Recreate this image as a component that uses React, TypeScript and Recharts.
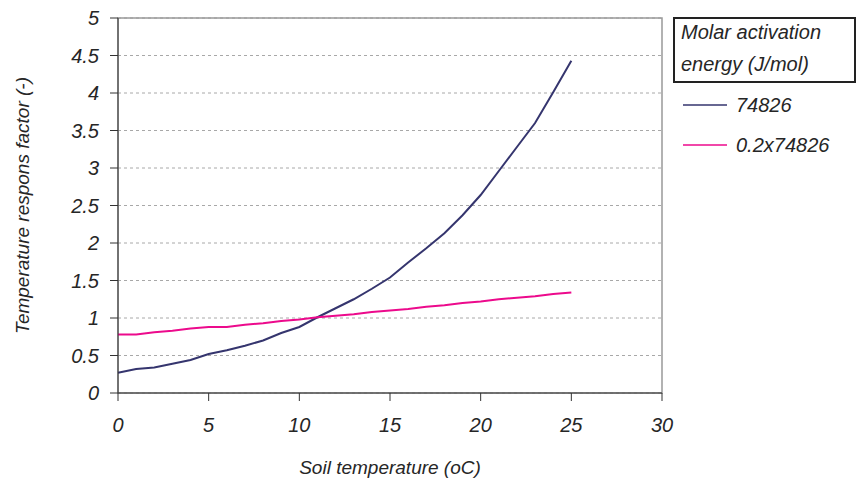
import {
  LineChart,
  Line,
  XAxis,
  YAxis,
  CartesianGrid,
  Legend,
  ReferenceArea,
} from 'recharts'

const temperatures = [
  0, 1, 2, 3, 4, 5, 6, 7, 8, 9, 10, 11, 12, 13, 14, 15, 16, 17, 18, 19, 20, 21, 22, 23, 24, 25,
]

// Ea = 74826 J/mol
const factorFull = [
  0.27, 0.32, 0.34, 0.39, 0.44, 0.52, 0.57, 0.63, 0.7, 0.8, 0.88, 1.01, 1.13, 1.25, 1.39, 1.54,
  1.74, 1.93, 2.13, 2.37, 2.64, 2.96, 3.28, 3.6, 4.01, 4.43,
]

// Ea = 0.2 x 74826 J/mol
const factorScaled = [
  0.78, 0.78, 0.81, 0.83, 0.86, 0.88, 0.88, 0.91, 0.93, 0.96, 0.98, 1.01, 1.03, 1.05, 1.08, 1.1,
  1.12, 1.15, 1.17, 1.2, 1.22, 1.25, 1.27, 1.29, 1.32, 1.34,
]

const seriesNames = ['74826', '0.2x74826']
const seriesColors = ['#35356e', '#ec0a8c']

const xTicks = [0, 5, 10, 15, 20, 25, 30]
const yTicks = [0, 0.5, 1, 1.5, 2, 2.5, 3, 3.5, 4, 4.5, 5]

const FONT = '"Liberation Sans", Arial, sans-serif'
const AXIS_COLOR = '#333'
const TEXT_COLOR = '#262626'

const data = temperatures.map((t, i) => ({
  t,
  full: factorFull[i],
  scaled: factorScaled[i],
}))

function LegendBox({ payload }: any) {
  const items = [...(payload || [])].sort(
    (a: any, b: any) => seriesNames.indexOf(a.value) - seriesNames.indexOf(b.value)
  )
  return (
    <div style={{ fontFamily: FONT, fontStyle: 'italic', fontSize: 20, color: TEXT_COLOR }}>
      <div
        style={{
          border: '2px solid #222',
          padding: '0 0 0 6px',
          lineHeight: '32px',
          height: 66,
          boxSizing: 'border-box',
          width: 183,
          whiteSpace: 'nowrap',
          overflow: 'hidden',
        }}
      >
        <div style={{ marginTop: -3 }}>
          Molar activation
          <br />
          energy (J/mol)
        </div>
      </div>
      <div style={{ height: 2 }} />
      {items.map((entry: any) => (
        <div
          key={entry.value}
          style={{ display: 'flex', alignItems: 'center', height: 40, paddingLeft: 10 }}
        >
          <svg width={44} height={4} style={{ marginRight: 9 }}>
            <line
              x1={0}
              x2={44}
              y1={2}
              y2={2}
              stroke={seriesColors[seriesNames.indexOf(entry.value)]}
              strokeWidth={1.5}
            />
          </svg>
          <span>{entry.value}</span>
        </div>
      ))}
    </div>
  )
}

export default function App() {
  const tickStyle = { fontFamily: FONT, fontStyle: 'italic', fontSize: 20, fill: TEXT_COLOR }
  return (
    <div style={{ position: 'absolute', left: 0, top: 0, background: '#fff' }}>
      <LineChart
        width={856}
        height={482}
        data={data}
        margin={{ top: 18, right: 194, left: 0, bottom: 0 }}
      >
        <CartesianGrid horizontal vertical={false} stroke="#a8a8a8" strokeDasharray="3 3" />
        <ReferenceArea
          x1={0}
          x2={30}
          y1={0}
          y2={5}
          fill="none"
          stroke="#999"
          strokeWidth={1.5}
          ifOverflow="visible"
        />
        <XAxis
          dataKey="t"
          type="number"
          domain={[0, 30]}
          ticks={xTicks}
          height={89}
          tickSize={8}
          tickMargin={17}
          stroke={AXIS_COLOR}
          tick={tickStyle}
          label={{
            value: 'Soil temperature (oC)',
            position: 'insideBottom',
            offset: 8,
            style: { fontFamily: FONT, fontStyle: 'italic', fontSize: 19, fill: TEXT_COLOR },
          }}
        />
        <YAxis
          type="number"
          domain={[0, 5]}
          ticks={yTicks}
          width={118}
          tickSize={8}
          tickMargin={11}
          stroke={AXIS_COLOR}
          tick={tickStyle}
          interval={0}
          label={{
            value: 'Temperature respons factor (-)',
            angle: -90,
            position: 'insideLeft',
            offset: 22,
            style: {
              textAnchor: 'middle',
              fontFamily: FONT,
              fontStyle: 'italic',
              fontSize: 19,
              fill: TEXT_COLOR,
            },
          }}
        />
        <Legend
          layout="horizontal"
          verticalAlign="middle"
          align="center"
          wrapperStyle={{ top: 17, left: 673, width: 183 }}
          content={<LegendBox />}
        />
        <Line
          type="linear"
          dataKey="full"
          name={seriesNames[0]}
          stroke={seriesColors[0]}
          strokeWidth={2}
          dot={false}
          isAnimationActive={false}
        />
        <Line
          type="linear"
          dataKey="scaled"
          name={seriesNames[1]}
          stroke={seriesColors[1]}
          strokeWidth={2}
          dot={false}
          isAnimationActive={false}
        />
      </LineChart>
    </div>
  )
}
